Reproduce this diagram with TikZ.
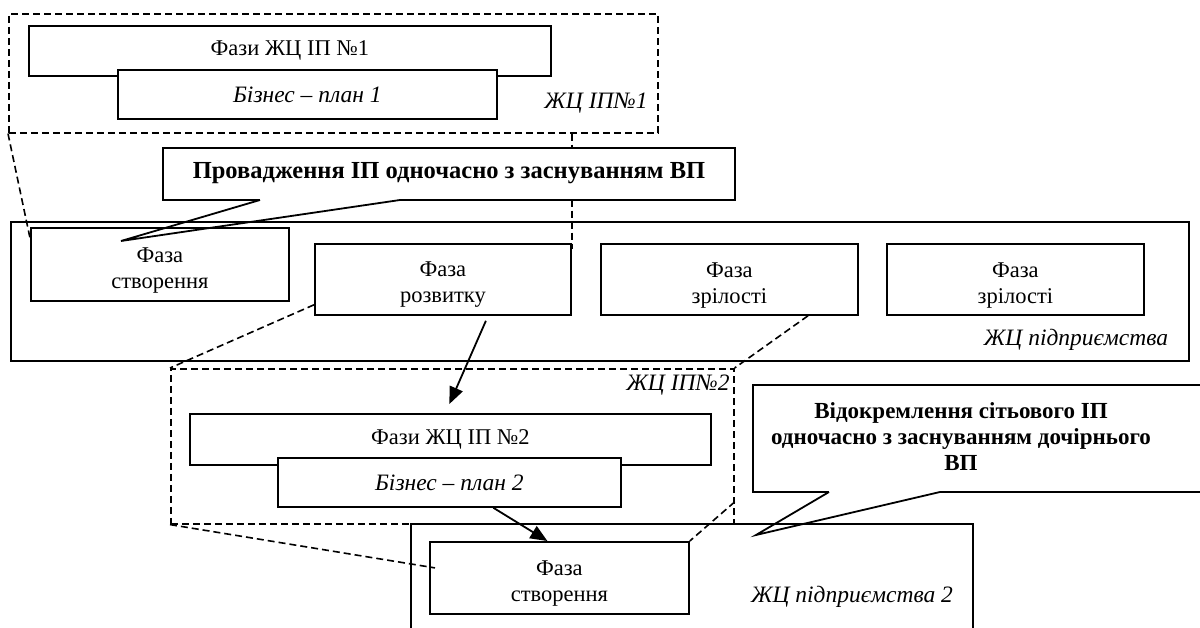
\documentclass[tikz,border=0pt]{standalone}
\usepackage{fontspec}
\setmainfont{Liberation Serif}
\usetikzlibrary{arrows.meta,calc}
\newcommand\topstrut{\rule{0pt}{26pt}}
\begin{document}
\begin{tikzpicture}[x=1pt,y=-1pt,
  every node/.style={font=\fontsize{22.5}{26}\selectfont},
  box/.style={draw, fill=white, line width=1.8pt, inner sep=0pt, align=center, anchor=north west},
  dbox/.style={draw, line width=1.6pt, dash pattern=on 7pt off 4pt, inner sep=0pt, anchor=north west},
  dline/.style={line width=1.6pt, dash pattern=on 7pt off 4pt},
  sline/.style={line width=1.8pt},
  arr/.style={line width=1.8pt, -{Triangle[length=17pt,width=14pt]}},
  lbl/.style={font=\fontsize{23.5}{26}\selectfont\itshape},
  calltext/.style={font=\fontsize{24.5}{26}\selectfont\bfseries, align=center},
]
\useasboundingbox (0,0) rectangle (1200,628);
\clip (0,0) rectangle (1200,628);
\fill[white] (0,0) rectangle (1200,628);

% --- top: ЖЦ ІП №1
\node[dbox, minimum width=649pt, minimum height=119pt] (ip1) at (8,13) {};
\node[box, minimum width=522pt, minimum height=50pt] (phases1) at (28,25) {Фази ЖЦ ІП №1};
\node[box, minimum width=379pt, minimum height=49pt, font=\fontsize{23.5}{26}\selectfont\itshape] (bp1) at (117,69) {Бізнес – план 1};
\node[lbl] (ip1lbl) at (596,103) {ЖЦ ІП№1};

% --- enterprise
\node[box, minimum width=1178pt, minimum height=139pt] (ent) at (10,221) {};
\node[box, minimum width=258pt, minimum height=73pt] (create1) at (30,227) {\topstrut Фаза\\створення};
\node[box, minimum width=256pt, minimum height=71pt] (dev) at (314,243) {\topstrut Фаза\\розвитку};
\node[box, minimum width=257pt, minimum height=71pt] (mat1) at (600,243) {\topstrut Фаза\\зрілості};
\node[box, minimum width=257pt, minimum height=71pt] (mat2) at (886,243) {\topstrut Фаза\\зрілості};
\node[lbl] (entlbl) at (1076,340) {ЖЦ підприємства};

% dashed links from ЖЦ ІП №1
\draw[dline] (ip1.south west) -- ($(create1.north west)+(0,11)$);
\draw[dline] (dev.north east |- ip1.south) -- ($(dev.north east)+(0,6)$);

% --- callout 1
\coordinate (c1tip) at (121,241);
\fill[white] (163,148) rectangle (735,200);
\draw[sline, line join=miter] (260,200) -- (163,200) -- (163,148) -- (735,148) -- (735,200) -- (400,200);
\draw[sline] (260,200) -- (c1tip) -- (400,200);
\node[calltext] (c1) at (449,173) {Провадження ІП одночасно з заснуванням ВП};

% --- ЖЦ ІП №2
\node[dbox, minimum width=563pt, minimum height=155pt] (ip2) at (170,368) {};
\node[box, minimum width=521pt, minimum height=51pt] (phases2) at (189,413) {Фази ЖЦ ІП №2};
\node[box, minimum width=343pt, minimum height=49pt, font=\fontsize{23.5}{26}\selectfont\itshape] (bp2) at (277,457) {Бізнес – план 2};
\node[lbl] (ip2lbl) at (678,385) {ЖЦ ІП№2};

% --- enterprise 2
\node[box, minimum width=562pt, minimum height=130pt] (ent2) at (410,523) {};
\node[box, minimum width=259pt, minimum height=72pt] (create2) at (429,541) {\topstrut Фаза\\створення};
\node[lbl] (ent2lbl) at (852,597) {ЖЦ підприємства 2};

% dashed links to ЖЦ ІП №2
\draw[dline] ($(dev.south west)+(0,-11)$) -- (ip2.north west);
\draw[dline] ($(mat1.south west)+(208,0)$) -- (ip2.north east);
\draw[dline] (ip2.south west) -- ($(create2.west)+(6,-10)$);
\draw[dline] ($(ip2.north east)+(0,134)$) -- (create2.north east);

% arrows
\draw[arr] ($(dev.south)+(43,5)$) -- ($(phases2.north)+(-1,-9)$);
\draw[arr] ($(bp2.south)+(44,0)$) -- ($(create2.north)+(-12,0)$);

% --- callout 2
\coordinate (c2tip) at (756,535);
\fill[white] (753,385) rectangle (1205,492);
\draw[sline, line join=miter] (829,492) -- (753,492) -- (753,385) -- (1205,385) -- (1205,492) -- (940,492);
\draw[sline] (829,492) -- (c2tip) -- (940,492);
\node[calltext, font=\fontsize{23}{26}\selectfont\bfseries] (c2) at (961,437) {Відокремлення сітьового ІП\\одночасно з заснуванням дочірнього\\ВП};
\end{tikzpicture}
\end{document}
